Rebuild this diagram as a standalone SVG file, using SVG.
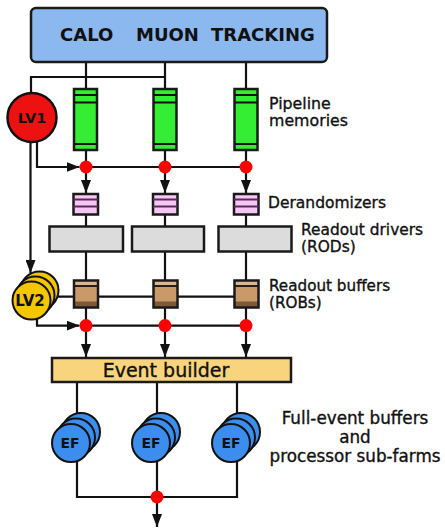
<svg xmlns="http://www.w3.org/2000/svg" width="445" height="528" viewBox="0 0 445 528">
<style>
.ln{fill:none;stroke:#111;stroke-width:2.2}
.arr{marker-end:url(#ah)}
.dot{fill:#ff0000}
.box{stroke:#1a1a1a;stroke-width:2.5}
.lbl{font-family:"DejaVu Sans",Verdana,sans-serif;fill:#111;stroke:#111;stroke-width:0.35}
.bold{font-family:"DejaVu Sans",Verdana,sans-serif;font-weight:bold;fill:#111}
.pipe{fill:#33ee33}
.pline{stroke:#111;stroke-width:1.8}
.der{fill:#f6c6f4}
.dline{stroke:#5a2a5a;stroke-width:1.8}
.rod{fill:#dcdcdc}
.ef{fill:#3c8eee;stroke:#111;stroke-width:2}
.lv2{fill:#f3c600;stroke:#111;stroke-width:2}
</style>
<defs>
<marker id="ah" markerUnits="userSpaceOnUse" markerWidth="13" markerHeight="10" refX="13" refY="5" orient="auto">
<path d="M0,0 L13,5 L0,10 z" fill="#111"/>
</marker>
</defs>

<g id="connectors">
<path class="ln" d="M86,63 V89 M165,63 V89 M246,63 V89"/>
<path class="ln" d="M31,93 V77 H165"/>
<path class="ln" d="M86,150 V167 M165,150 V167 M246,150 V167"/>
<path class="ln arr" d="M37,141 V167 H79.5"/>
<path class="ln" d="M86,167 H246"/>
<path class="ln arr" d="M86,167 V193"/>
<path class="ln arr" d="M165,167 V193"/>
<path class="ln arr" d="M246,167 V193"/>
<path class="ln" d="M86,215 V226 M165,215 V226 M246,215 V226"/>
<path class="ln" d="M86,252 V280 M165,252 V280 M246,252 V280"/>
<path class="ln arr" d="M30.5,142 V273"/>
<path class="ln" d="M55,296.7 H246"/>
<path class="ln" d="M86,308 V325.6 M165,308 V325.6 M246,308 V325.6"/>
<path class="ln arr" d="M37,318 V325.6 H79.5"/>
<path class="ln" d="M86,325.6 H246"/>
<path class="ln arr" d="M86,325.6 V357"/>
<path class="ln arr" d="M165,325.6 V357"/>
<path class="ln arr" d="M246,325.6 V357"/>
<path class="ln" d="M77,383 V422 M157,383 V422 M237,383 V422"/>
<path class="ln" d="M77,458 V497 H237 V458 M157,458 V497"/>
<path class="ln arr" d="M157,497 V527"/>
<circle class="dot" cx="86" cy="167" r="6.5"/>
<circle class="dot" cx="165" cy="167" r="6.5"/>
<circle class="dot" cx="246" cy="167" r="6.5"/>
<circle class="dot" cx="86" cy="325.6" r="6.5"/>
<circle class="dot" cx="165" cy="325.6" r="6.5"/>
<circle class="dot" cx="246" cy="325.6" r="6.5"/>
<circle class="dot" cx="157" cy="497" r="6.5"/>
</g>

<g id="node-detectors">
<rect class="box" x="31" y="8" width="296" height="54" rx="5" fill="#8bb8ee"/>
<text class="bold" x="60" y="41" font-size="18">CALO</text>
<text class="bold" x="136" y="41" font-size="18">MUON</text>
<text class="bold" x="211" y="41" font-size="18">TRACKING</text>
</g>

<g id="node-lv1">
<circle cx="32" cy="117.5" r="24.5" fill="#ee1111" stroke="#111" stroke-width="2.5"/>
<text class="bold" x="32" y="122.5" font-size="14.5" text-anchor="middle">LV1</text>
</g>

<g id="node-pipeline-1">
<rect class="box pipe" x="74" y="89" width="23" height="61"/>
<path class="pline" d="M74,95 H97 M74,102.5 H97 M74,144 H97"/>
</g>
<g id="node-pipeline-2">
<rect class="box pipe" x="153.5" y="89" width="23" height="61"/>
<path class="pline" d="M153.5,95 H176.5 M153.5,102.5 H176.5 M153.5,144 H176.5"/>
</g>
<g id="node-pipeline-3">
<rect class="box pipe" x="234.5" y="89" width="23" height="61"/>
<path class="pline" d="M234.5,95 H257.5 M234.5,102.5 H257.5 M234.5,144 H257.5"/>
</g>
<text class="lbl" x="269" y="108.5" font-size="15.8">Pipeline</text>
<text class="lbl" x="269" y="126.2" font-size="15.8">memories</text>

<g id="node-derand-1">
<rect class="box der" x="73.5" y="194" width="24.5" height="20.5"/>
<path class="dline" d="M73.5,199.5 H98 M73.5,206.5 H98"/>
</g>
<g id="node-derand-2">
<rect class="box der" x="153" y="194" width="24.5" height="20.5"/>
<path class="dline" d="M153,199.5 H177.5 M153,206.5 H177.5"/>
</g>
<g id="node-derand-3">
<rect class="box der" x="234" y="194" width="24.5" height="20.5"/>
<path class="dline" d="M234,199.5 H258.5 M234,206.5 H258.5"/>
</g>
<text class="lbl" x="268" y="208.3" font-size="15.5">Derandomizers</text>

<g id="node-rod-1"><rect class="box rod" x="49.5" y="226.5" width="73.5" height="25"/></g>
<g id="node-rod-2"><rect class="box rod" x="132" y="226.5" width="72" height="25"/></g>
<g id="node-rod-3"><rect class="box rod" x="218.5" y="226.5" width="73" height="25"/></g>
<text class="lbl" x="301" y="235" font-size="15.4">Readout drivers</text>
<text class="lbl" x="301" y="251.7" font-size="15.4">(RODs)</text>

<g id="node-lv2">
<circle class="lv2" cx="39.5" cy="290.5" r="19"/>
<circle class="lv2" cx="35.5" cy="295.5" r="19"/>
<circle class="lv2" cx="31.5" cy="300.5" r="19"/>
<text class="bold" x="30" y="306" font-size="15" text-anchor="middle">LV2</text>
</g>

<g id="node-rob-1">
<rect x="74" y="280.5" width="24" height="27" fill="#c99a68"/>
<rect x="74" y="280.5" width="24" height="5" fill="#dcb58c"/>
<rect x="74" y="301.5" width="24" height="6" fill="#7c5a38"/>
<path class="pline" d="M74,286 H98"/>
<rect x="74" y="280.5" width="24" height="27" fill="none" stroke="#1a1a1a" stroke-width="2.5"/>
</g>
<g id="node-rob-2">
<rect x="153.5" y="280.5" width="24" height="27" fill="#c99a68"/>
<rect x="153.5" y="280.5" width="24" height="5" fill="#dcb58c"/>
<rect x="153.5" y="301.5" width="24" height="6" fill="#7c5a38"/>
<path class="pline" d="M153.5,286 H177.5"/>
<rect x="153.5" y="280.5" width="24" height="27" fill="none" stroke="#1a1a1a" stroke-width="2.5"/>
</g>
<g id="node-rob-3">
<rect x="234.5" y="280.5" width="24" height="27" fill="#c99a68"/>
<rect x="234.5" y="280.5" width="24" height="5" fill="#dcb58c"/>
<rect x="234.5" y="301.5" width="24" height="6" fill="#7c5a38"/>
<path class="pline" d="M234.5,286 H258.5"/>
<rect x="234.5" y="280.5" width="24" height="27" fill="none" stroke="#1a1a1a" stroke-width="2.5"/>
</g>
<text class="lbl" x="269" y="291.2" font-size="15.2">Readout buffers</text>
<text class="lbl" x="269" y="308" font-size="15.2">(ROBs)</text>

<g id="node-eventbuilder">
<rect class="box" x="52" y="358" width="239" height="24" fill="#f8d57c"/>
<text class="lbl" x="166" y="376.5" font-size="19" text-anchor="middle">Event builder</text>
</g>

<g id="node-ef-1">
<circle class="ef" cx="81" cy="432" r="19"/>
<circle class="ef" cx="76" cy="437.5" r="19"/>
<circle class="ef" cx="71" cy="443" r="19"/>
<text class="bold" x="70" y="448" font-size="14" text-anchor="middle">EF</text>
</g>
<g id="node-ef-2">
<circle class="ef" cx="161" cy="432" r="19"/>
<circle class="ef" cx="156" cy="437.5" r="19"/>
<circle class="ef" cx="151" cy="443" r="19"/>
<text class="bold" x="151" y="448" font-size="14" text-anchor="middle">EF</text>
</g>
<g id="node-ef-3">
<circle class="ef" cx="241" cy="432" r="19"/>
<circle class="ef" cx="236" cy="437.5" r="19"/>
<circle class="ef" cx="231" cy="443" r="19"/>
<text class="bold" x="231" y="448" font-size="14" text-anchor="middle">EF</text>
</g>
<text class="lbl" x="355" y="424" font-size="16.8" text-anchor="middle">Full-event buffers</text>
<text class="lbl" x="355" y="443" font-size="16.8" text-anchor="middle">and</text>
<text class="lbl" x="355" y="461.5" font-size="16.8" text-anchor="middle">processor sub-farms</text>
</svg>
